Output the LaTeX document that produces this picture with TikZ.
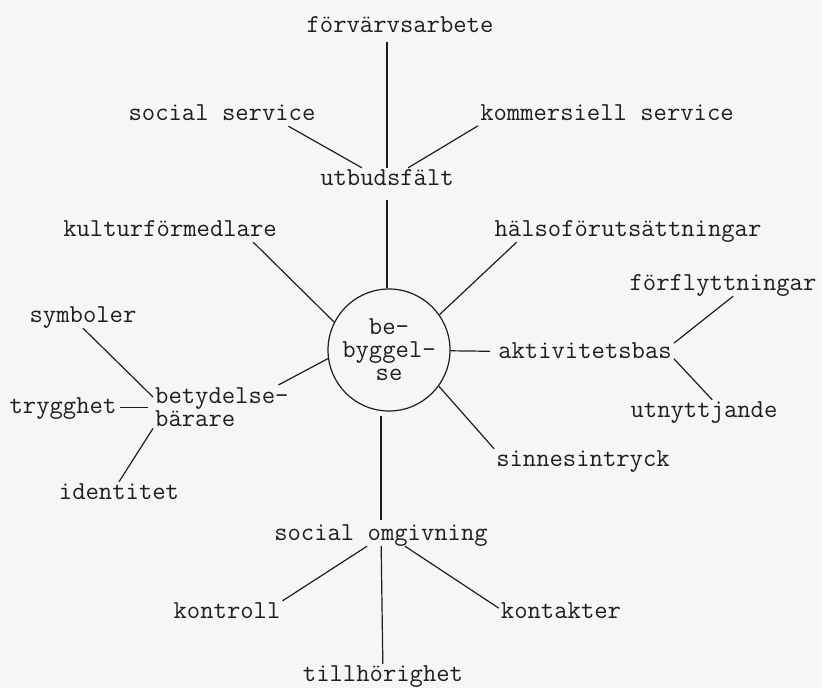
\documentclass[tikz,border=0pt]{standalone}
\usepackage{fontspec}
\definecolor{paper}{HTML}{F6F6F4}
\definecolor{ink}{HTML}{1E1E1E}

\begin{document}
\begin{tikzpicture}[
    x=1pt, y=-1pt,
    every node/.style={font={\ttfamily\fontsize{25.9pt}{23pt}\selectfont}, text=ink},
    term/.style={anchor=base, inner sep=2pt, text height=15pt, text depth=4pt},
    hub/.style={circle, draw=ink, line width=1.2pt, minimum size=122pt,
        inner sep=0pt, align=center},
    link/.style={draw=ink, line width=1.2pt}
]
\fill[paper] (0,0) rectangle (822,688);

% Nodes
\node[hub] (bebyg) at (389,350) {be-\\byggel-\\se};

\node[term] (forv) at (400,32) {förvärvsarbete};
\node[term] (socserv) at (222,120) {social service};
\node[term] (kommserv) at (607,120) {kommersiell service};
\node[term] (utbud) at (387,185) {utbudsfält};

\node[term] (kultur) at (170,236) {kulturförmedlare};
\node[term] (halso) at (628,236) {hälsoförutsättningar};

\node[term] (forfl) at (723,290) {förflyttningar};
\node[term] (aktiv) at (585,358) {aktivitetsbas};
\node[term] (utnytt) at (704,417) {utnyttjande};
\node[term] (sinnes) at (583,466) {sinnesintryck};

\node[term] (symb) at (83,322) {symboler};
\node[anchor=north west, inner sep=2pt, align=left] (betyd) at (153,385) {betydelse-\\bärare};
\node[term] (tryg) at (63,413) {trygghet};
\node[term] (ident) at (119,499) {identitet};

\node[term] (socomg) at (381,540) {social omgivning};
\node[term] (kontroll) at (227,618) {kontroll};
\node[term] (kontakter) at (561,618) {kontakter};
\node[term] (tillhor) at (383,681) {tillhörighet};

% Lines
\draw[link, shorten <=4pt] (forv.south -| utbud.north) -- (utbud.north);
\draw[link] (socserv.-10) -- (utbud.155);
\draw[link] (kommserv.185) -- (utbud.29);
\draw[link, shorten <=9pt] (utbud.south) -- (utbud.south |- bebyg.north);

\draw[link] (kultur.-8) -- (bebyg.153);
\draw[link] (halso.186) -- (bebyg.35);

\draw[link, shorten >=6pt] (bebyg) -- (aktiv);
\draw[link] (aktiv.6) -- (forfl.-49);
\draw[link] (aktiv.-4) -- (utnytt.55);
\draw[link] (bebyg.-36) -- (sinnes.north west);

\draw[link] (bebyg.188) -- (betyd.21);
\draw[link] (symb.south) -- (betyd.172);
\draw[link, shorten <=1pt, shorten >=5pt] (tryg.east) -- (tryg.east -| betyd.west);
\draw[link] (betyd.south west) -- (ident.north);

\draw[link, shorten <=4pt, shorten >=3pt] (socomg.north |- bebyg.south) -- (socomg.north);
\draw[link] (socomg.220) -- (kontroll.north east);
\draw[link] (socomg) -- (tillhor);
\draw[link] (socomg.-26) -- (kontakter.176);

\end{tikzpicture}
\end{document}
